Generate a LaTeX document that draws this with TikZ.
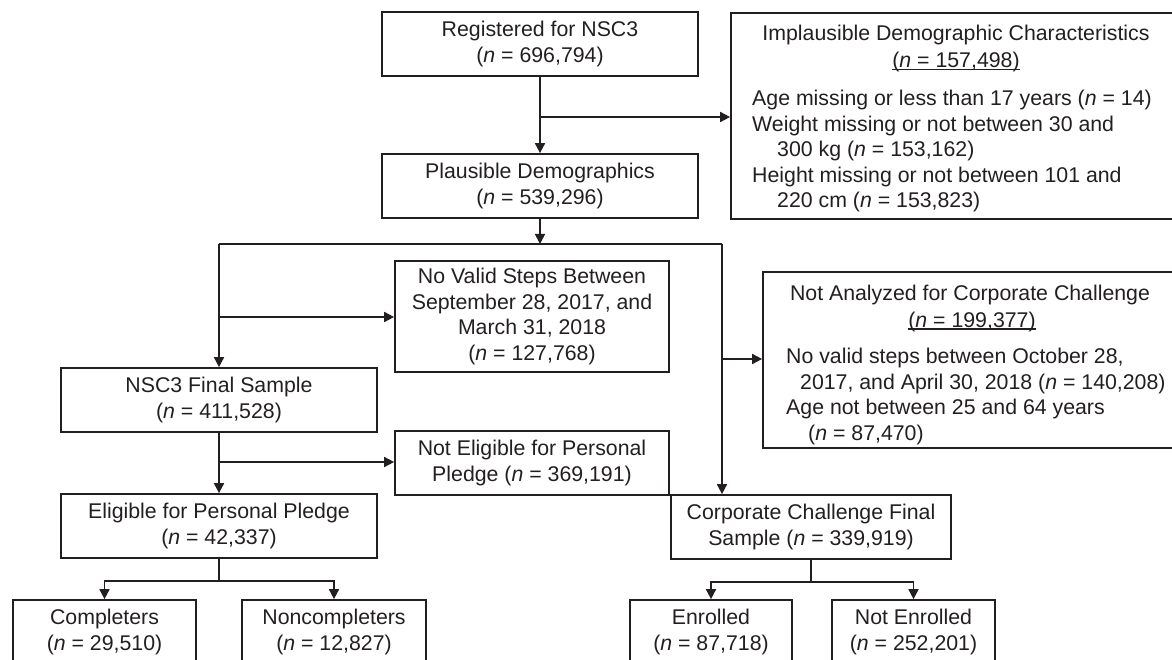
\documentclass[tikz,border=0pt]{standalone}
\usepackage{fontspec}
\setmainfont{Liberation Sans}
\usetikzlibrary{arrows.meta,calc}
\definecolor{ink}{HTML}{231F20}
\newcommand\myul[1]{\setbox0=\hbox{#1}\rlap{\rule[-2.5pt]{\wd0}{1.5pt}}\box0}
\begin{document}
\begin{tikzpicture}[x=1pt,y=-1pt,
  every node/.style={font=\fontsize{21.3}{25.5}\selectfont, text=ink},
  box/.style={draw=ink, line width=1.7pt, inner sep=0pt, align=center, rectangle},
  txt/.style={inner sep=0pt},
  lst/.style={inner sep=0pt, align=left, anchor=north west},
  conn/.style={draw=ink, line width=1.7pt},
  arr/.style={conn, -{Triangle[length=10pt,width=10pt]}}]
\useasboundingbox (0,0) rectangle (1172,660);
\clip (0,0) rectangle (1172,660);
% boxes
\node[box, minimum width=316pt, minimum height=64pt] (reg) at (540,44) {Registered for NSC3\\(\textit{n} = 696,794)};
\node[box, minimum width=316pt, minimum height=64pt] (plaus) at (540,186) {Plausible Demographics\\(\textit{n} = 539,296)};
\node[box, minimum width=454pt, minimum height=206pt] (impl) at (958,116) {};
\node[txt, anchor=base] (implT) at (956,41) {Implausible Demographic Characteristics};
\node[txt, anchor=base] (implN) at (956,68) {\myul{(\textit{n} = 157,498)}};
\node[lst] (implL) at (752,90) {Age missing or less than 17 years (\textit{n} = 14)\\Weight missing or not between 30 and\\\hspace*{25pt}300 kg (\textit{n} = 153,162)\\Height missing or not between 101 and\\\hspace*{25pt}220 cm (\textit{n} = 153,823)};
\node[box, minimum width=274pt, minimum height=111pt] (novalid) at (532,316.5) {No Valid Steps Between\\September 28, 2017, and\\March 31, 2018\\(\textit{n} = 127,768)};
\node[box, minimum width=422pt, minimum height=176pt] (notan) at (974,360) {};
\node[txt, anchor=base] (notanT) at (970,300) {Not Analyzed for Corporate Challenge};
\node[txt, anchor=base] (notanN) at (972,327) {\myul{(\textit{n} = 199,377)}};
\node[lst] (notanL) at (786,348) {No valid steps between October 28,\\\hspace*{14pt}2017, and April 30, 2018 (\textit{n} = 140,208)\\Age not between 25 and 64 years\\\hspace*{22pt}(\textit{n} = 87,470)};
\node[box, minimum width=316pt, minimum height=64pt] (nsc) at (219,400) {NSC3 Final Sample\\(\textit{n} = 411,528)};
\node[box, minimum width=274pt, minimum height=64pt] (notelig) at (532,463) {Not Eligible for Personal\\Pledge (\textit{n} = 369,191)};
\node[box, minimum width=316pt, minimum height=64pt] (elig) at (219,526) {Eligible for Personal Pledge\\(\textit{n} = 42,337)};
\node[box, minimum width=280pt, minimum height=64pt] (corp) at (811,527) {Corporate Challenge Final\\Sample (\textit{n} = 339,919)};
\node[box, minimum width=183pt, minimum height=64pt] (comp) at (104.5,632) {Completers\\(\textit{n} = 29,510)};
\node[box, minimum width=184pt, minimum height=64pt] (noncomp) at (334,632) {Noncompleters\\(\textit{n} = 12,827)};
\node[box, minimum width=162pt, minimum height=64pt] (enr) at (711,632) {Enrolled\\(\textit{n} = 87,718)};
\node[box, minimum width=163pt, minimum height=64pt] (notenr) at (913.5,632) {Not Enrolled\\(\textit{n} = 252,201)};
% junction coordinates
\coordinate (j1) at (540,117);
\coordinate (busM) at (540,244);
\coordinate (busL) at (219,244);
\coordinate (busR) at (722,244);
\coordinate (j2) at (219,317);
\coordinate (j3) at (722,359);
\coordinate (j4) at (219,462);
\coordinate (s1) at (219,581);
\coordinate (s2) at (811,582);
% connectors
\draw[arr] (reg) -- (plaus);
\draw[arr] (j1) -- (j1 -| impl.west);
\draw[arr] (plaus) -- (busM);
\draw[conn] (busL) -- (busR);
\draw[arr] (busL) -- (nsc);
\draw[arr] (j2) -- (j2 -| novalid.west);
\draw[arr] (busR) -- (busR |- corp.north);
\draw[arr] (j3) -- (j3 -| notan.west);
\draw[arr] (nsc) -- (elig);
\draw[arr] (j4) -- (j4 -| notelig.west);
\draw[conn] (elig.south) -- (s1);
\draw[arr] (s1) -| (comp.north);
\draw[arr] (s1) -| (noncomp.north);
\draw[conn] (corp.south) -- (s2);
\draw[arr] (s2) -| (enr.north);
\draw[arr] (s2) -| (notenr.north);
\end{tikzpicture}
\end{document}
